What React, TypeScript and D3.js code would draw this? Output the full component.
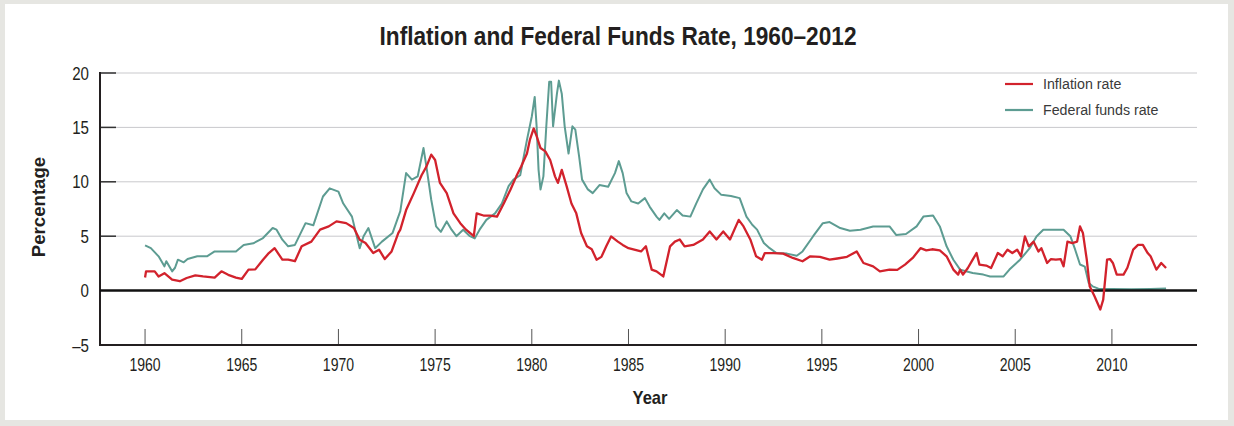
import React, { useEffect, useRef } from "react";
import * as d3 from "d3";

const TITLE = "Inflation and Federal Funds Rate, 1960–2012";
const X_TICKS = [1960, 1965, 1970, 1975, 1980, 1985, 1990, 1995, 2000, 2005, 2010];
const Y_TICKS = [-5, 0, 5, 10, 15, 20];
const SERIES_NAMES = ["Inflation rate", "Federal funds rate"];
const SERIES_COLORS = ["#d2222c", "#5d9c92"];

const inflation: [number, number][] = [
  [1960.0, 1.2], [1960.05, 1.77], [1960.5, 1.77], [1960.7, 1.3], [1961.0, 1.6], [1961.4, 1.0],
  [1961.8, 0.86], [1962.15, 1.16], [1962.6, 1.4], [1963.0, 1.3], [1963.6, 1.2], [1963.95, 1.77],
  [1964.3, 1.45], [1964.7, 1.2], [1965.0, 1.07], [1965.35, 1.93], [1965.7, 1.95], [1966.1, 2.84],
  [1966.4, 3.45], [1966.7, 3.9], [1967.1, 2.84], [1967.4, 2.84], [1967.75, 2.7], [1968.1, 4.07],
  [1968.6, 4.5], [1969.05, 5.6], [1969.5, 5.9], [1969.9, 6.36], [1970.4, 6.2], [1970.8, 5.75],
  [1971.1, 4.68], [1971.4, 4.37], [1971.8, 3.45], [1972.1, 3.76], [1972.4, 2.9], [1972.75, 3.6],
  [1973.1, 5.3], [1973.2, 5.6], [1973.5, 7.4], [1973.9, 8.96], [1974.3, 10.6], [1974.55, 11.4],
  [1974.8, 12.5], [1975.0, 12.0], [1975.25, 9.9], [1975.6, 8.96], [1975.95, 7.1], [1976.3, 6.2],
  [1976.6, 5.6], [1977.0, 5.0], [1977.15, 7.1], [1977.5, 6.9], [1977.85, 6.9], [1978.2, 6.8],
  [1978.55, 8.0], [1978.9, 9.3], [1979.2, 10.5], [1979.45, 11.4], [1979.75, 12.6], [1979.9, 13.85],
  [1980.1, 14.9], [1980.25, 14.2], [1980.45, 13.1], [1980.7, 12.8], [1980.95, 12.0], [1981.2, 10.5],
  [1981.35, 9.9], [1981.55, 11.1], [1981.8, 9.6], [1982.05, 8.0], [1982.3, 7.1], [1982.55, 5.3],
  [1982.85, 4.07], [1983.1, 3.8], [1983.35, 2.84], [1983.6, 3.1], [1983.85, 4.07], [1984.1, 4.98],
  [1984.45, 4.5], [1984.7, 4.2], [1985.0, 3.9], [1985.3, 3.76], [1985.65, 3.6], [1985.9, 4.07],
  [1986.2, 1.93], [1986.45, 1.77], [1986.8, 1.3], [1987.15, 4.07], [1987.4, 4.5], [1987.65, 4.7],
  [1987.9, 4.07], [1988.35, 4.2], [1988.85, 4.7], [1989.2, 5.44], [1989.55, 4.7], [1989.9, 5.44],
  [1990.25, 4.7], [1990.7, 6.5], [1990.95, 5.9], [1991.3, 4.7], [1991.6, 3.15], [1991.9, 2.84],
  [1992.05, 3.45], [1992.5, 3.45], [1993.0, 3.4], [1993.5, 3.0], [1994.0, 2.7], [1994.4, 3.15],
  [1994.9, 3.1], [1995.4, 2.84], [1995.8, 2.95], [1996.3, 3.1], [1996.8, 3.6], [1997.15, 2.54],
  [1997.65, 2.23], [1998.0, 1.77], [1998.5, 1.93], [1998.9, 1.9], [1999.3, 2.39], [1999.7, 3.0],
  [2000.1, 3.9], [2000.4, 3.7], [2000.7, 3.8], [2001.1, 3.7], [2001.45, 3.15], [2001.8, 1.93],
  [2002.05, 1.47], [2002.15, 1.93], [2002.3, 1.47], [2002.55, 2.08], [2002.8, 2.84], [2003.0, 3.45],
  [2003.15, 2.39], [2003.5, 2.3], [2003.75, 2.08], [2004.1, 3.45], [2004.35, 3.15], [2004.6, 3.76],
  [2004.85, 3.45], [2005.1, 3.76], [2005.3, 3.15], [2005.5, 4.98], [2005.7, 4.07], [2005.95, 4.5],
  [2006.2, 3.6], [2006.35, 3.9], [2006.65, 2.54], [2006.85, 2.9], [2007.1, 2.84], [2007.35, 2.9],
  [2007.5, 2.23], [2007.7, 4.5], [2007.95, 4.37], [2008.2, 4.5], [2008.35, 5.9], [2008.5, 5.3],
  [2008.7, 2.84], [2008.85, 0.39], [2009.1, -0.52], [2009.4, -1.74], [2009.55, -0.83], [2009.75, 2.84],
  [2009.9, 2.9], [2010.05, 2.54], [2010.25, 1.47], [2010.6, 1.47], [2010.8, 2.1], [2011.1, 3.76],
  [2011.35, 4.2], [2011.6, 4.2], [2011.85, 3.45], [2012.0, 3.15], [2012.3, 1.93], [2012.55, 2.54],
  [2012.8, 2.08],
];

const fedFunds: [number, number][] = [
  [1960.0, 4.16], [1960.3, 3.9], [1960.7, 3.15], [1961.0, 2.23], [1961.1, 2.7], [1961.4, 1.77],
  [1961.55, 2.1], [1961.7, 2.84], [1962.0, 2.6], [1962.2, 2.9], [1962.7, 3.15], [1963.2, 3.15],
  [1963.6, 3.6], [1964.2, 3.6], [1964.7, 3.6], [1965.1, 4.2], [1965.6, 4.35], [1966.1, 4.83],
  [1966.6, 5.75], [1966.8, 5.6], [1967.1, 4.68], [1967.4, 4.07], [1967.75, 4.2], [1968.3, 6.2],
  [1968.7, 6.0], [1969.2, 8.65], [1969.55, 9.4], [1970.0, 9.1], [1970.25, 8.0], [1970.7, 6.8],
  [1971.1, 3.9], [1971.3, 5.0], [1971.55, 5.75], [1971.9, 3.9], [1972.25, 4.5], [1972.8, 5.3],
  [1973.2, 7.3], [1973.5, 10.8], [1973.8, 10.2], [1974.1, 10.5], [1974.4, 13.1], [1974.55, 11.4],
  [1974.8, 8.35], [1975.05, 5.9], [1975.3, 5.4], [1975.6, 6.36], [1975.85, 5.6], [1976.1, 5.0],
  [1976.45, 5.6], [1976.8, 5.0], [1977.05, 4.8], [1977.3, 5.6], [1977.65, 6.5], [1978.1, 7.1],
  [1978.45, 8.0], [1978.8, 9.6], [1979.05, 10.2], [1979.4, 10.6], [1979.55, 12.0], [1979.75, 13.85],
  [1980.0, 16.0], [1980.15, 17.8], [1980.25, 15.1], [1980.35, 11.1], [1980.45, 9.3], [1980.6, 10.5],
  [1980.75, 15.1], [1980.9, 19.2], [1981.0, 19.2], [1981.1, 15.1], [1981.3, 18.1], [1981.4, 19.3],
  [1981.55, 18.1], [1981.7, 15.1], [1981.9, 12.6], [1982.1, 15.1], [1982.25, 14.8], [1982.45, 12.3],
  [1982.6, 10.2], [1982.9, 9.3], [1983.15, 8.96], [1983.5, 9.7], [1983.95, 9.55], [1984.3, 10.8],
  [1984.5, 11.9], [1984.7, 10.8], [1984.9, 8.96], [1985.15, 8.2], [1985.5, 8.0], [1985.85, 8.5],
  [1986.1, 7.7], [1986.45, 6.8], [1986.6, 6.5], [1986.85, 7.1], [1987.1, 6.6], [1987.5, 7.4],
  [1987.8, 6.9], [1988.2, 6.8], [1988.5, 8.0], [1988.85, 9.3], [1989.2, 10.2], [1989.45, 9.4],
  [1989.8, 8.8], [1990.3, 8.7], [1990.75, 8.5], [1991.1, 6.8], [1991.4, 6.05], [1991.65, 5.6],
  [1992.0, 4.37], [1992.3, 3.9], [1992.65, 3.45], [1993.2, 3.4], [1993.7, 3.2], [1994.0, 3.6],
  [1994.55, 5.0], [1995.05, 6.2], [1995.4, 6.3], [1995.95, 5.75], [1996.45, 5.5], [1997.0, 5.6],
  [1997.65, 5.9], [1998.5, 5.9], [1998.85, 5.1], [1999.35, 5.2], [1999.9, 5.9], [2000.25, 6.8],
  [2000.75, 6.9], [2001.1, 5.9], [2001.45, 4.07], [2001.8, 2.84], [2002.15, 1.93], [2002.5, 1.75],
  [2002.8, 1.62], [2003.35, 1.47], [2003.7, 1.3], [2004.4, 1.3], [2004.7, 1.93], [2005.25, 2.84],
  [2005.75, 3.9], [2006.1, 4.98], [2006.45, 5.6], [2007.5, 5.6], [2007.85, 5.0], [2008.1, 3.76],
  [2008.35, 2.4], [2008.6, 2.2], [2008.8, 0.7], [2009.0, 0.39], [2009.3, 0.18], [2010.0, 0.15],
  [2011.0, 0.12], [2012.0, 0.15], [2012.8, 0.2],
];

const W = 1234;
const H = 426;
const FONT = "'Liberation Sans', Arial, sans-serif";
const NARROW = 0.78;

export default function App() {
  const ref = useRef<SVGSVGElement | null>(null);

  useEffect(() => {
    const svg = d3.select(ref.current);
    svg.selectAll("*").remove();

    const left = 100, right = 1197, top = 73, bottom = 345;
    const x = d3.scaleLinear().domain([1957.67, 2014.4]).range([left, right]);
    const y = d3.scaleLinear().domain([-5, 20]).range([bottom, top]);

    const label = (
      px: number, py: number, txt: string, size: number, anchor: string,
      opts: { bold?: boolean; sx?: number; rotate?: number; fill?: string } = {}
    ) => {
      return svg.append("text")
        .attr("transform", `translate(${px},${py})${opts.rotate ? ` rotate(${opts.rotate})` : ""} scale(${opts.sx ?? NARROW},1)`)
        .attr("text-anchor", anchor)
        .attr("font-family", FONT)
        .attr("font-weight", opts.bold ? "bold" : "normal")
        .attr("font-size", size)
        .attr("fill", opts.fill ?? "#231f20")
        .text(txt);
    };

    // frame
    svg.append("rect").attr("x", 0).attr("y", 0).attr("width", W).attr("height", H).attr("fill", "#e6e6e2");
    svg.append("rect").attr("x", 5).attr("y", 4).attr("width", 1223).attr("height", 416).attr("fill", "#ffffff");

    // title
    svg.append("text")
      .attr("x", 618).attr("y", 45)
      .attr("text-anchor", "middle")
      .attr("font-family", FONT).attr("font-weight", "bold").attr("font-size", 25)
      .attr("fill", "#231f20")
      .attr("textLength", 477).attr("lengthAdjust", "spacingAndGlyphs")
      .text(TITLE);

    // gridlines
    const grid = svg.append("g");
    Y_TICKS.filter((t) => t > 0).forEach((t) => {
      grid.append("line")
        .attr("x1", left).attr("x2", right)
        .attr("y1", y(t)).attr("y2", y(t))
        .attr("stroke", "#c9c9cc").attr("stroke-width", 1);
      grid.append("line")
        .attr("x1", left).attr("x2", left + 16)
        .attr("y1", y(t)).attr("y2", y(t))
        .attr("stroke", "#333").attr("stroke-width", 1.5);
    });

    // y tick labels
    Y_TICKS.forEach((t) => {
      label(89, y(t) + 6.5, t < 0 ? "–" + Math.abs(t) : String(t), 18, "end", { sx: 0.84 });
    });

    // x ticks
    X_TICKS.forEach((t) => {
      svg.append("line")
        .attr("x1", x(t)).attr("x2", x(t))
        .attr("y1", bottom - 16).attr("y2", bottom)
        .attr("stroke", "#555").attr("stroke-width", 1);
      label(x(t), bottom + 26, String(t), 18, "middle");
    });

    // axes
    svg.append("line").attr("x1", left).attr("x2", left).attr("y1", top - 1).attr("y2", bottom + 1)
      .attr("stroke", "#231f20").attr("stroke-width", 2);
    svg.append("line").attr("x1", left).attr("x2", right).attr("y1", bottom).attr("y2", bottom)
      .attr("stroke", "#231f20").attr("stroke-width", 2);

    // axis titles
    label(45, (top + bottom) / 2 - 2, "Percentage", 19, "middle", { bold: true, rotate: -90, sx: 0.98 });
    label(650, 404, "Year", 18, "middle", { bold: true, sx: 0.92 });

    const line = d3.line<[number, number]>()
      .x((d) => x(d[0]))
      .y((d) => y(d[1]))
      .curve(d3.curveLinear);

    svg.append("path").datum(fedFunds)
      .attr("d", line).attr("fill", "none")
      .attr("stroke", SERIES_COLORS[1]).attr("stroke-width", 2).attr("stroke-linejoin", "round");

    // zero line
    svg.append("line").attr("x1", left).attr("x2", right).attr("y1", y(0)).attr("y2", y(0))
      .attr("stroke", "#111").attr("stroke-width", 2.5);

    svg.append("path").datum(inflation)
      .attr("d", line).attr("fill", "none")
      .attr("stroke", SERIES_COLORS[0]).attr("stroke-width", 2.3).attr("stroke-linejoin", "round");

    // legend
    SERIES_NAMES.forEach((name, i) => {
      const ly = 84 + i * 26;
      svg.append("line")
        .attr("x1", 1005).attr("x2", 1033).attr("y1", ly).attr("y2", ly)
        .attr("stroke", SERIES_COLORS[i]).attr("stroke-width", 2.2);
      label(1043, ly + 5, name, 15, "start", { sx: 0.95, fill: "#3a3a3a" });
    });
  }, []);

  return (
    <svg
      ref={ref}
      width={W}
      height={H}
      style={{ position: "absolute", left: 0, top: 0, display: "block" }}
    />
  );
}
